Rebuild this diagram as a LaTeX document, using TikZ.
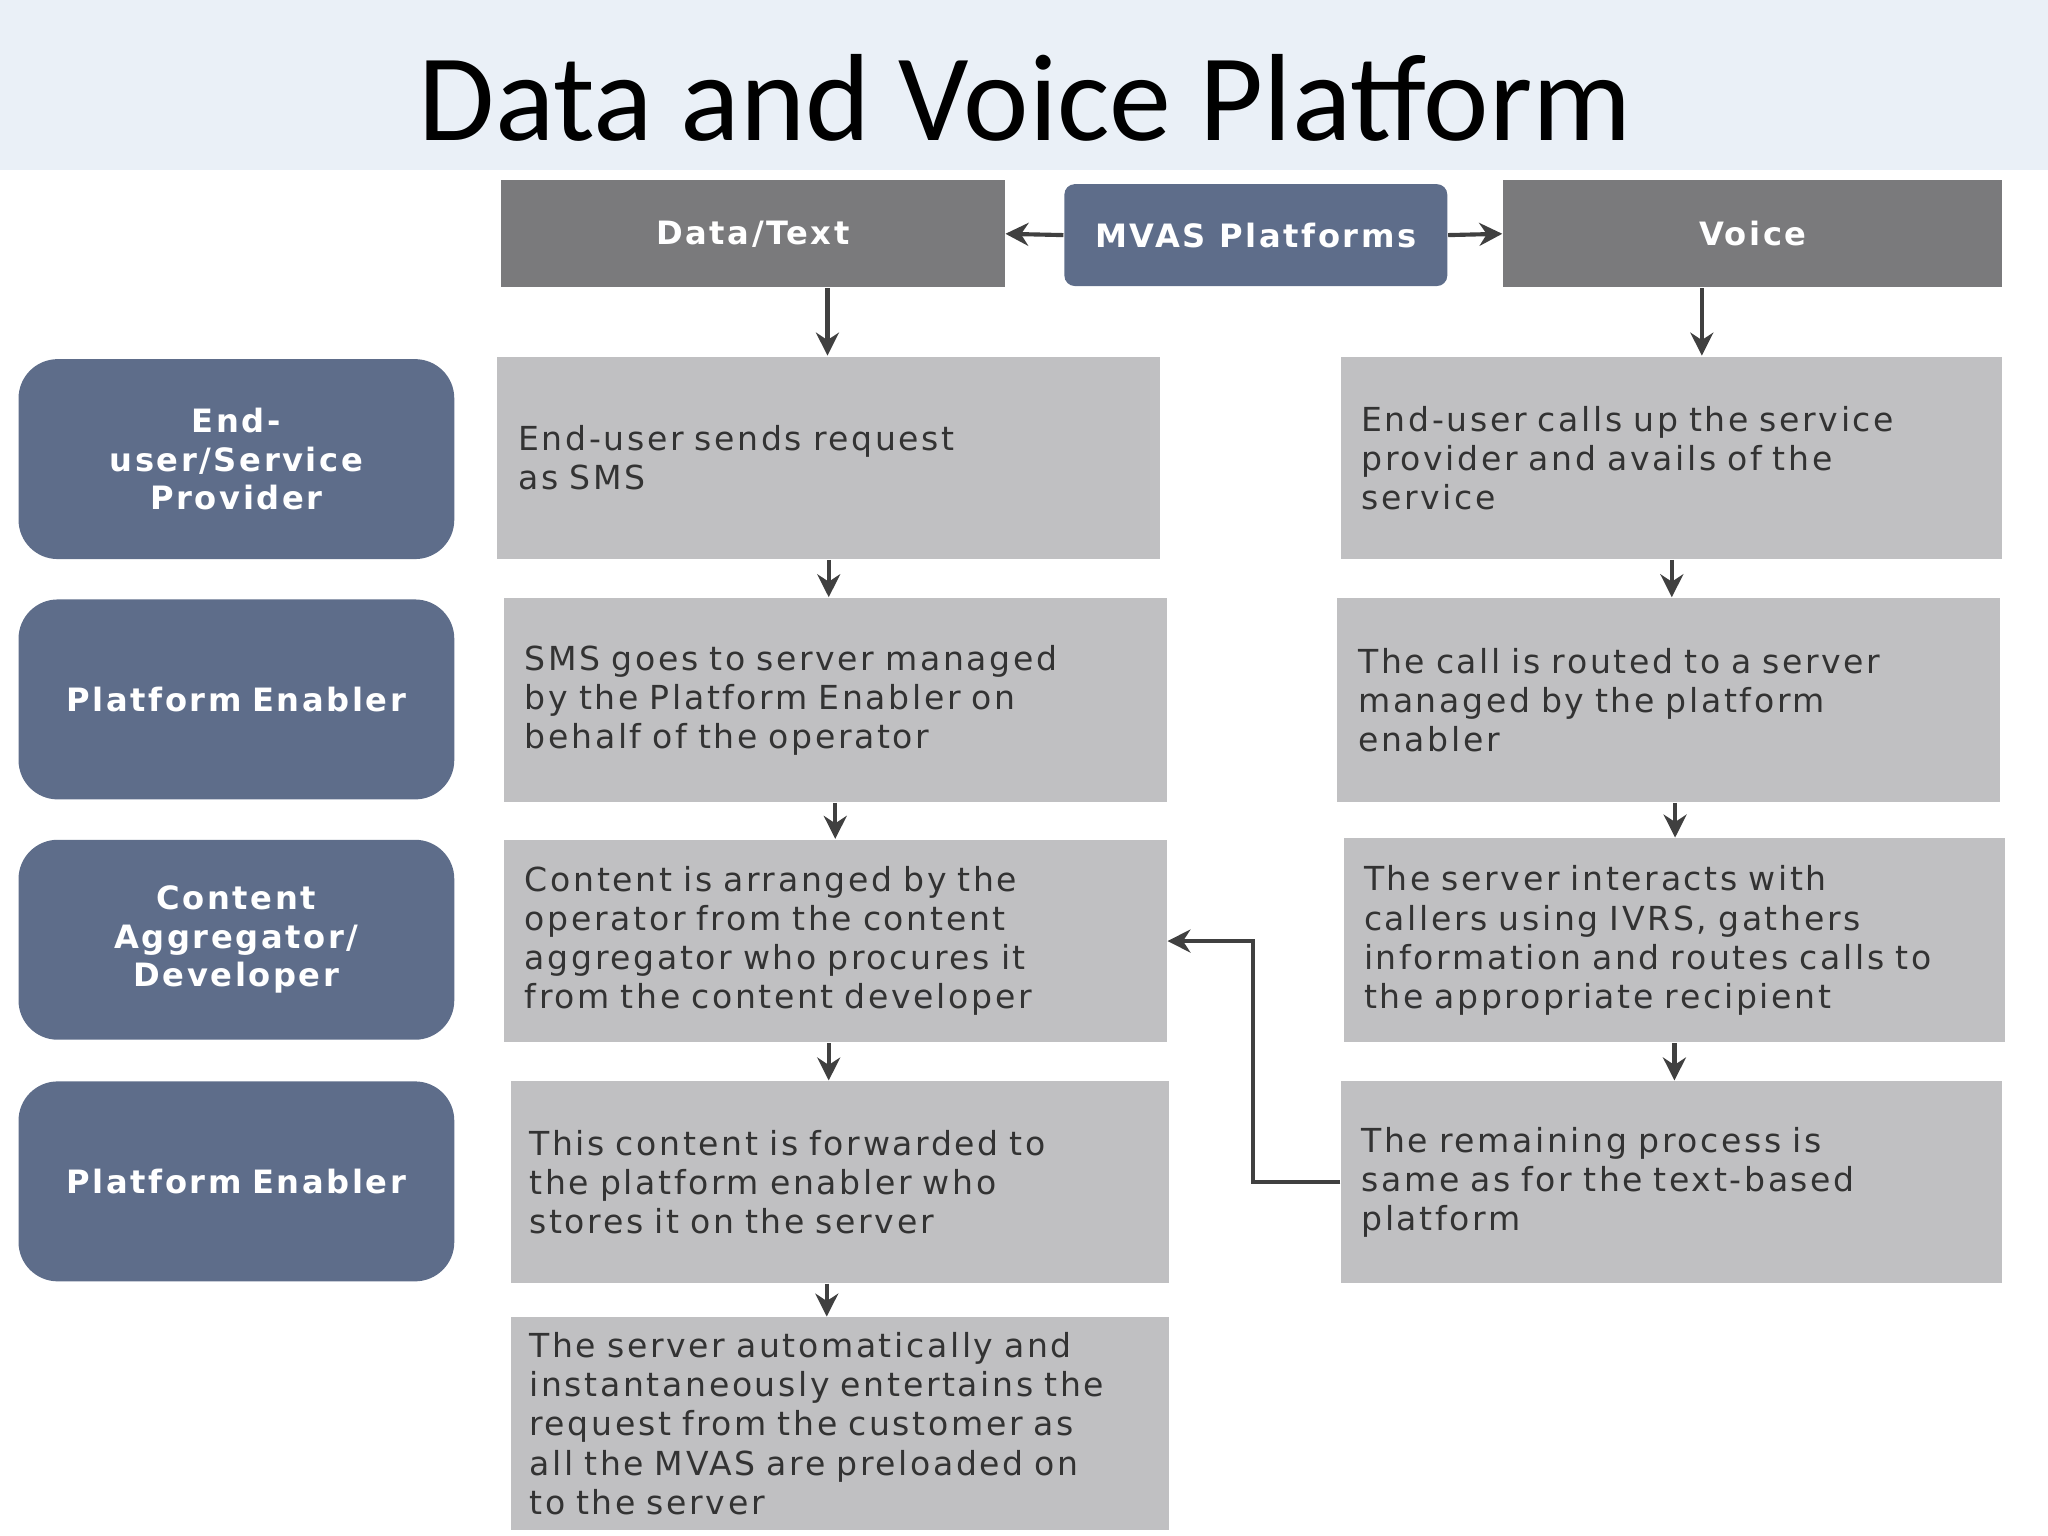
\documentclass[tikz,border=0pt]{standalone}
\usepackage{fontspec}
\setmainfont[LetterSpace=8]{DejaVu Sans}
\newfontfamily\titlefont{Carlito}
\usetikzlibrary{arrows.meta}
\definecolor{headgray}{HTML}{7A7A7C}
\definecolor{slate}{HTML}{5E6D8A}
\definecolor{boxgray}{HTML}{C0C0C2}
\definecolor{band}{HTML}{EAF0F7}
\begin{document}
\begin{tikzpicture}[
    x=0.01cm, y=-0.01cm,
    head/.style={rectangle, fill=headgray, minimum height=0.82cm, text=white, font=\bfseries\fontsize{7}{9}\selectfont},
    role/.style={rectangle, fill=slate, rounded corners=0.3cm, minimum width=3.32cm, minimum height=1.53cm, text width=3.1cm, align=center, text=white, font=\bfseries\fontsize{7}{8.4}\selectfont},
    stage/.style={rectangle, fill=boxgray, minimum height=1.55cm, text width=4.75cm, align=left, text=black!80, font=\fontsize{7.2}{8.5}\selectfont},
    flow/.style={-{Stealth[length=5pt,width=5pt]}, line width=0.9pt, draw=black!75}
]
\useasboundingbox (0,0) rectangle (1568,1176);
\fill[band] (0,0) rectangle (1568,130);
\node[font=\titlefont\fontsize{27}{32}\selectfont] (title) at (785,75) {Data and Voice Platform};

% Header row
\node[head, minimum width=3.85cm] (data) at (576.5,179) {Data/Text};
\node[head, fill=slate, rounded corners=0.08cm, minimum width=2.93cm, minimum height=0.78cm] (mvas) at (961.5,180) {MVAS Platforms};
\node[head, minimum width=3.82cm] (voice) at (1342,179) {Voice};

% Roles
\node[role] (l1) at (181,351.5) {End-\\user/Service\\Provider};
\node[role] (l2) at (181,535.5) {Platform Enabler};
\node[role] (l3) at (181,719.5) {Content\\Aggregator/\\Developer};
\node[role] (l4) at (181,904.5) {Platform Enabler};

% Data/Text stages
\node[stage, minimum width=5.07cm] (m1) at (634.5,350.5) {End-user sends request\\as SMS};
\node[stage, minimum width=5.07cm, minimum height=1.56cm] (m2) at (639.5,536) {SMS goes to server managed\\by the Platform Enabler on\\behalf of the operator};
\node[stage, minimum width=5.07cm] (m3) at (639.5,720.5) {Content is arranged by the\\operator from the content\\aggregator who procures it\\from the content developer};
\node[stage, minimum width=5.04cm, minimum height=1.54cm] (m4) at (643,905) {This content is forwarded to\\the platform enabler who\\stores it on the server};
\node[stage, minimum width=5.04cm, minimum height=1.56cm] (m5) at (643,1090) {The server automatically and\\instantaneously entertains the\\request from the customer as\\all the MVAS are preloaded on\\to the server};

% Voice stages
\node[stage, minimum width=5.06cm] (r1) at (1280,350.5) {End-user calls up the service\\provider and avails of the\\service};
\node[stage, minimum width=5.07cm, minimum height=1.56cm] (r2) at (1277.5,536) {The call is routed to a server\\managed by the platform\\enabler};
\node[stage, minimum width=5.06cm, minimum height=1.56cm] (r3) at (1282,720) {The server interacts with\\callers using IVRS, gathers\\information and routes calls to\\the appropriate recipient};
\node[stage, minimum width=5.06cm, minimum height=1.54cm] (r4) at (1280,905) {The remaining process is\\same as for the text-based\\platform};

% Header arrows
\draw[flow] (mvas.west) -- (data.east);
\draw[flow] (mvas.east) -- (voice.west);
\draw[flow] ([xshift=0.57cm]data.south) -- ([xshift=0.57cm]data.south |- m1.north);
\draw[flow] ([xshift=-0.39cm]voice.south) -- ([xshift=-0.39cm]voice.south |- r1.north);

% Stage arrows
\draw[flow] (m1.south) -- (m1.south |- m2.north);
\draw[flow] (m2.south) -- (m2.south |- m3.north);
\draw[flow] ([xshift=-0.05cm]m3.south) -- ([xshift=-0.05cm]m3.south |- m4.north);
\draw[flow] ([xshift=-0.1cm]m4.south) -- ([xshift=-0.1cm]m4.south |- m5.north);
\draw[flow] (r1.south) -- (r1.south |- r2.north);
\draw[flow] ([xshift=0.05cm]r2.south) -- ([xshift=0.05cm]r2.south |- r3.north);
\draw[flow] (r3.south) -- (r3.south |- r4.north);

% Feedback
\draw[flow] (r4.west) -- ++(-67,0) |- (m3.east);
\end{tikzpicture}
\end{document}
